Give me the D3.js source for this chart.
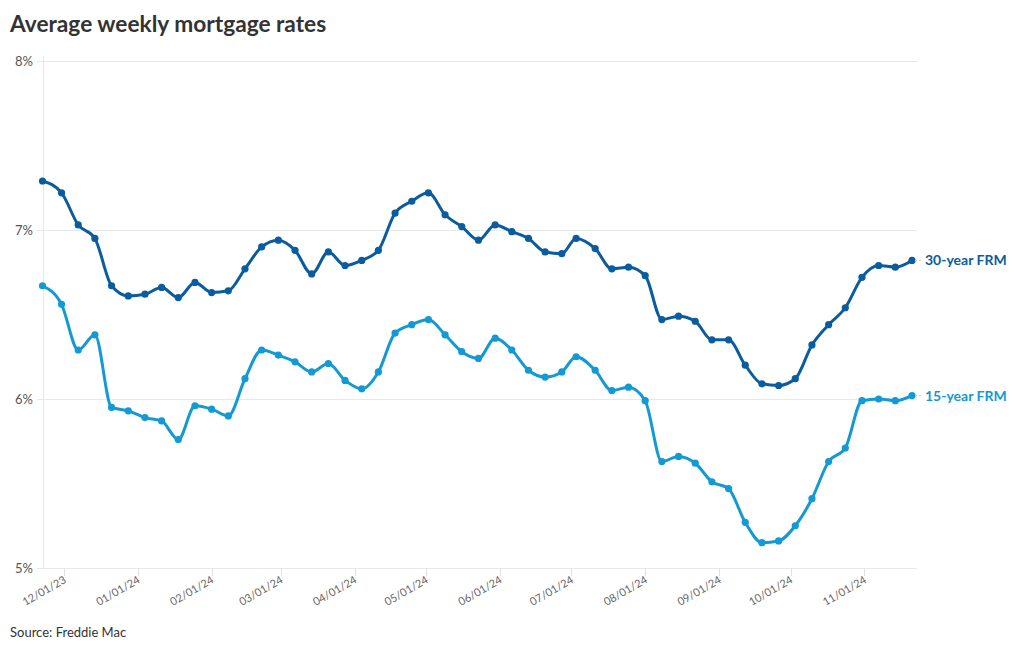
<!DOCTYPE html>
<html><head><meta charset="utf-8">
<script src="https://cdn.jsdelivr.net/npm/d3@7"></script>
<style>
body{margin:0;background:#fff;font-family:Lato,"Noto Sans",sans-serif;}
</style></head><body>
<svg id="c" width="1020" height="650"></svg>
<script>
const dates = ["2023-11-22","2023-11-30","2023-12-07","2023-12-14","2023-12-21","2023-12-28",
"2024-01-04","2024-01-11","2024-01-18","2024-01-25","2024-02-01","2024-02-08","2024-02-15","2024-02-22","2024-02-29",
"2024-03-07","2024-03-14","2024-03-21","2024-03-28","2024-04-04","2024-04-11","2024-04-18","2024-04-25",
"2024-05-02","2024-05-09","2024-05-16","2024-05-23","2024-05-30","2024-06-06","2024-06-13","2024-06-20","2024-06-27",
"2024-07-03","2024-07-11","2024-07-18","2024-07-25","2024-08-01","2024-08-08","2024-08-15","2024-08-22","2024-08-29",
"2024-09-05","2024-09-12","2024-09-19","2024-09-26","2024-10-03","2024-10-10","2024-10-17","2024-10-24","2024-10-31",
"2024-11-07","2024-11-14","2024-11-21"];
const frm30 = [7.29,7.22,7.03,6.95,6.67,6.61,6.62,6.66,6.60,6.69,6.63,6.64,6.77,6.90,6.94,
6.88,6.74,6.87,6.79,6.82,6.88,7.10,7.17,7.22,7.09,7.02,6.94,7.03,6.99,6.95,6.87,6.86,
6.95,6.89,6.77,6.78,6.73,6.47,6.49,6.46,6.35,6.35,6.20,6.09,6.08,6.12,6.32,6.44,6.54,6.72,
6.79,6.78,6.82];
const frm15 = [6.67,6.56,6.29,6.38,5.95,5.93,5.89,5.87,5.76,5.96,5.94,5.90,6.12,6.29,6.26,
6.22,6.16,6.21,6.11,6.06,6.16,6.39,6.44,6.47,6.38,6.28,6.24,6.36,6.29,6.17,6.13,6.16,
6.25,6.17,6.05,6.07,5.99,5.63,5.66,5.62,5.51,5.47,5.27,5.15,5.16,5.25,5.41,5.63,5.71,5.99,
6.00,5.99,6.02];
const yTicks = [5,6,7,8];
const xTickDates = ["2023-12-01","2024-01-01","2024-02-01","2024-03-01","2024-04-01","2024-05-01",
"2024-06-01","2024-07-01","2024-08-01","2024-09-01","2024-10-01","2024-11-01"];
const seriesNames = ["30-year FRM","15-year FRM"];
const seriesColors = ["#0b5c9e","#1399d3"];

const parse = d3.utcParse("%Y-%m-%d");
const D = dates.map(parse);
const svg = d3.select("#c");

const x = d3.scaleUtc().domain([D[0], D[D.length-1]]).range([42.5, 912]);
const y = d3.scaleLinear().domain([5,8]).range([568, 61]);

svg.append("text").attr("x",10).attr("y",32).text("Average weekly mortgage rates")
  .attr("font-size",22.7).attr("font-weight",700).attr("fill","#333");

// gridlines
const grid = svg.append("g");
grid.selectAll("line").data(yTicks).join("line")
  .attr("x1",37).attr("x2",917).attr("y1",d=>Math.round(y(d))+0.5).attr("y2",d=>Math.round(y(d))+0.5)
  .attr("stroke","#e8e8e8").attr("stroke-width",1);
svg.append("line").attr("x1",43.5).attr("x2",43.5).attr("y1",56).attr("y2",568)
  .attr("stroke","#e8e8e8");
svg.append("g").selectAll("text").data(yTicks).join("text")
  .attr("x",33).attr("y",d=>y(d)+4.5).attr("text-anchor","end")
  .attr("font-size",13).attr("fill","#555").text(d=>d+"%");

// x ticks
const xt = xTickDates.map(parse);
const xg = svg.append("g");
xg.selectAll("line").data(xt).join("line")
  .attr("x1",d=>Math.round(x(d))+0.5).attr("x2",d=>Math.round(x(d))+0.5).attr("y1",568).attr("y2",576)
  .attr("stroke","#e0e0e0");
const fmt = d3.utcFormat("%m/%d/%y");
xg.selectAll("text").data(xt).join("text")
  .attr("transform",d=>`translate(${x(d)+3},${582}) rotate(-30)`)
  .attr("text-anchor","end").attr("font-size",11).attr("fill","#666").text(d=>fmt(d));

// lines
const line = d3.line().x((d,i)=>x(D[i])).y(d=>y(d)).curve(d3.curveMonotoneX);
[frm30, frm15].forEach((vals,k)=>{
  const g = svg.append("g");
  g.append("path").attr("d",line(vals)).attr("fill","none").attr("stroke",seriesColors[k])
    .attr("stroke-width",3).attr("stroke-linejoin","round");
  g.selectAll("circle").data(vals).join("circle")
    .attr("cx",(d,i)=>x(D[i])).attr("cy",d=>y(d)).attr("r",3.6).attr("fill",seriesColors[k]);
  const last = vals[vals.length-1];
  const lx = x(D[D.length-1]);
  g.append("line").attr("x1",lx+3).attr("x2",lx+9).attr("y1",y(last)).attr("y2",y(last))
    .attr("stroke","#ccc").attr("stroke-dasharray","2,2");
  g.append("text").attr("x",lx+13).attr("y",y(last)+5).attr("font-size",14).attr("font-weight",700)
    .attr("fill",seriesColors[k]).text(seriesNames[k]);
});

svg.append("text").attr("x",10).attr("y",637).text("Source: Freddie Mac")
  .attr("font-size",13).attr("fill","#333");
</script></body></html>
